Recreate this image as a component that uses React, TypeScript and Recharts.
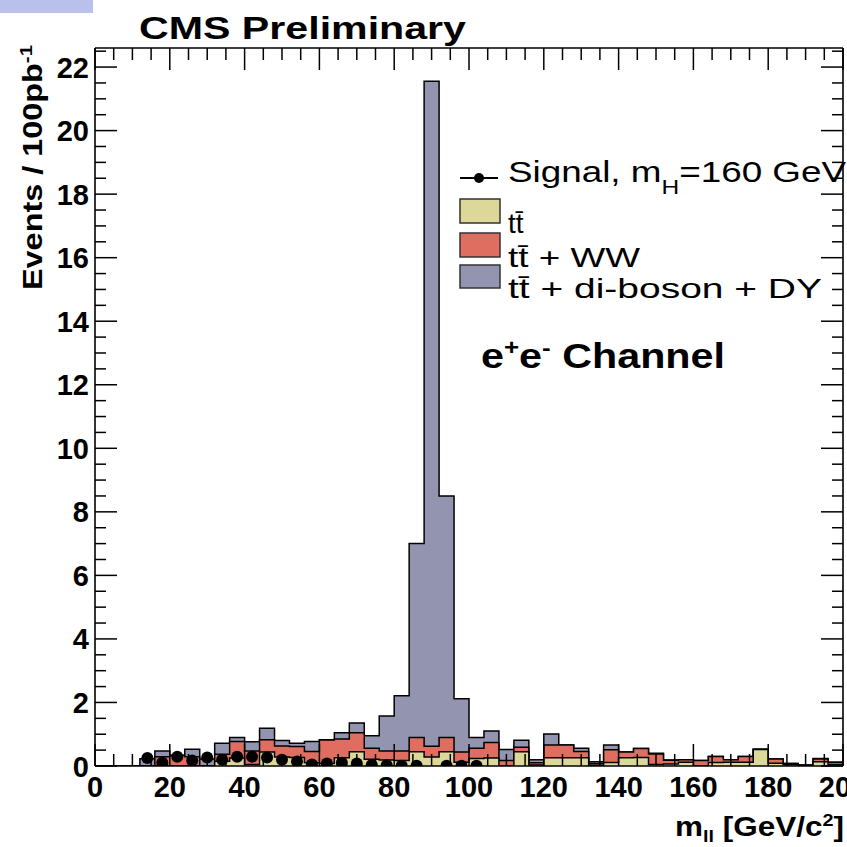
import React from 'react';
import { ComposedChart, Area, Scatter, XAxis, YAxis } from 'recharts';

// bin low edges, 4 GeV bins from 0 to 200
const binLow = [
  0, 4, 8, 12, 16, 20, 24, 28, 32, 36, 40, 44, 48, 52, 56, 60, 64, 68, 72, 76,
  80, 84, 88, 92, 96, 100, 104, 108, 112, 116, 120, 124, 128, 132, 136, 140, 144, 148, 152, 156,
  160, 164, 168, 172, 176, 180, 184, 188, 192, 196,
];

// ttbar only
const ttbar = [
  0, 0, 0, 0, 0, 0, 0, 0, 0.15, 0.25, 0.05, 0.44, 0.28, 0.27, 0.1, 0.08, 0.26, 0.45, 0.21, 0.19,
  0.17, 0.45, 0.28, 0.45, 0.12, 0.24, 0.25, 0, 0.45, 0.03, 0.26, 0.26, 0.26, 0.02, 0.11, 0.26, 0.27, 0.05, 0.06, 0.12,
  0, 0.11, 0.12, 0.12, 0.52, 0.09, 0.04, 0.01, 0.13, 0.05,
];

// ttbar + WW (cumulative)
const ttbarWW = [
  0, 0, 0, 0, 0.29, 0.33, 0.29, 0, 0.37, 0.77, 0.47, 0.83, 0.63, 0.61, 0.46, 0.82, 0.85, 1.05, 0.56, 0.47,
  0.47, 0.9, 0.62, 0.9, 0.44, 0.56, 0.74, 0.17, 0.59, 0.1, 0.66, 0.66, 0.46, 0.08, 0.51, 0.44, 0.55, 0.38, 0.18, 0.2,
  0.17, 0.3, 0.2, 0.3, 0.53, 0.22, 0.08, 0.03, 0.22, 0.12,
];

// ttbar + di-boson + DY (cumulative total)
const totalBkg = [
  0, 0, 0, 0.23, 0.47, 0.34, 0.53, 0.22, 0.72, 0.9, 0.76, 1.19, 0.8, 0.72, 0.77, 0.83, 1.05, 1.35, 0.95, 1.57,
  2.21, 7.0, 21.55, 8.5, 2.12, 0.9, 1.1, 0.52, 0.81, 0.2, 1.01, 0.66, 0.56, 0.13, 0.66, 0.44, 0.55, 0.4, 0.19, 0.2,
  0.17, 0.3, 0.2, 0.3, 0.53, 0.22, 0.08, 0.03, 0.24, 0.12,
];

// signal mH = 160 GeV, at bin centres
const signalMass = [14, 18, 22, 26, 30, 34, 38, 42, 46, 50, 54, 58, 62, 66, 70, 74, 78, 82, 86, 94, 98, 102];
const signalVals = [0.25, 0.1, 0.29, 0.17, 0.27, 0.2, 0.29, 0.29, 0.27, 0.2, 0.14, 0.05, 0.08, 0.1, 0.08, 0.03, 0.02, 0.01, 0.01, 0.01, 0.01, 0.01];

const xMajor = [0, 20, 40, 60, 80, 100, 120, 140, 160, 180, 200];
const yMajor = [0, 2, 4, 6, 8, 10, 12, 14, 16, 18, 20, 22];

const W = 847, H = 847;
const PL = 95, PR = 843, PT = 48, PB = 766;
const YMAX = 22.6;

const C_TT = '#dcd89a';
const C_WW = '#e06e60';
const C_DY = '#9395b0';
const FONT = '"Liberation Sans", Arial, Helvetica, sans-serif';

const xTicks: number[] = [];
for (let v = 0; v <= 200; v += 5) xTicks.push(v);
const yTicks: number[] = [];
for (let v = 0; v <= 22.5; v += 0.5) yTicks.push(v);

const rows = binLow.map((x, i) => ({ x, tt: ttbar[i], ttww: ttbarWW[i], total: totalBkg[i] }));
rows.push({ x: 200, tt: ttbar[49], ttww: ttbarWW[49], total: totalBkg[49] });

const sigRows = signalMass.map((x, i) => ({ x, sig: signalVals[i] }));

const lbl = { fontFamily: FONT, fontWeight: 700, fontSize: 29, fill: '#000' } as const;

const BottomTick = (p: any) => {
  const v = p.payload.value;
  const major = xMajor.includes(v);
  return (
    <g>
      <line x1={p.x} x2={p.x} y1={PB} y2={PB - (major ? 22 : 12)} stroke="#000" strokeWidth={1.5} />
      {major && <text x={p.x} y={PB + 31} textAnchor="middle" {...lbl}>{v}</text>}
    </g>
  );
};

const TopTick = (p: any) => {
  const major = xMajor.includes(p.payload.value);
  return <line x1={p.x} x2={p.x} y1={PT} y2={PT + (major ? 22 : 12)} stroke="#000" strokeWidth={1.5} />;
};

const LeftTick = (p: any) => {
  const v = p.payload.value;
  const major = yMajor.includes(v);
  return (
    <g>
      <line x1={PL} x2={PL + (major ? 22 : 11)} y1={p.y} y2={p.y} stroke="#000" strokeWidth={1.5} />
      {major && <text x={PL - 6} y={p.y + 10.5} textAnchor="end" {...lbl}>{v}</text>}
    </g>
  );
};

const RightTick = (p: any) => {
  const major = yMajor.includes(p.payload.value);
  return <line x1={PR} x2={PR - (major ? 22 : 11)} y1={p.y} y2={p.y} stroke="#000" strokeWidth={1.5} />;
};

const SignalDot = (p: any) => <circle cx={p.cx} cy={p.cy} r={6} fill="#000" />;

export default function App() {
  return (
    <div style={{ position: 'absolute', left: 0, top: 0, width: W, height: H, background: '#fff', overflow: 'hidden' }}>
      <div style={{ position: 'absolute', left: 0, top: 0, width: 93, height: 13, background: '#b9c1ea' }} />
      <ComposedChart
        width={W}
        height={H}
        data={rows}
        margin={{ top: PT - 1, right: W - PR - 1, bottom: H - PB - 30, left: PL - 40 }}
      >
        <Area type="stepAfter" dataKey="total" fill={C_DY} fillOpacity={1} stroke="#000" strokeWidth={1.5} dot={false} activeDot={false} isAnimationActive={false} />
        <Area type="stepAfter" dataKey="ttww" fill={C_WW} fillOpacity={1} stroke="#000" strokeWidth={1.5} dot={false} activeDot={false} isAnimationActive={false} />
        <Area type="stepAfter" dataKey="tt" fill={C_TT} fillOpacity={1} stroke="#000" strokeWidth={1.5} dot={false} activeDot={false} isAnimationActive={false} />
        <Scatter data={sigRows} dataKey="sig" fill="#000" shape={SignalDot} isAnimationActive={false} />
        <XAxis
          dataKey="x" type="number" domain={[0, 200]} ticks={xTicks} interval={0} allowDataOverflow
          height={30} axisLine={{ stroke: '#000', strokeWidth: 1.6 }} tickLine={false} tick={<BottomTick />}
        />
        <XAxis
          xAxisId="top" orientation="top" dataKey="x" type="number" domain={[0, 200]} ticks={xTicks} interval={0}
          allowDataOverflow height={1} axisLine={{ stroke: '#000', strokeWidth: 1.6 }} tickLine={false} tick={<TopTick />}
        />
        <YAxis
          type="number" domain={[0, YMAX]} ticks={yTicks} interval={0} allowDataOverflow width={40}
          axisLine={{ stroke: '#000', strokeWidth: 1.6 }} tickLine={false} tick={<LeftTick />}
        />
        <YAxis
          yAxisId="right" orientation="right" type="number" domain={[0, YMAX]} ticks={yTicks} interval={0}
          allowDataOverflow width={1} axisLine={{ stroke: '#000', strokeWidth: 1.6 }} tickLine={false} tick={<RightTick />}
        />
      </ComposedChart>

      <svg width={W} height={H} style={{ position: 'absolute', left: 0, top: 0, pointerEvents: 'none' }}>
        <text x={139} y={39} fontFamily={FONT} fontWeight={700} fontSize={32} textLength={327} lengthAdjust="spacingAndGlyphs">
          CMS Preliminary
        </text>
        <text transform="translate(42,290) rotate(-90)" fontFamily={FONT} fontWeight={700} fontSize={27} textLength={245} lengthAdjust="spacingAndGlyphs">
          Events / 100pb<tspan dy={-10} fontSize={17}>-1</tspan>
        </text>
        <text x={675} y={836} fontFamily={FONT} fontWeight={700} fontSize={27} textLength={169} lengthAdjust="spacingAndGlyphs">
          m<tspan dy={6} fontSize={17}>ll</tspan>
          <tspan dy={-6}> [GeV/c</tspan>
          <tspan dy={-10} fontSize={17}>2</tspan>
          <tspan dy={10}>]</tspan>
        </text>

        {/* legend */}
        <line x1={460} x2={498} y1={178} y2={178} stroke="#000" strokeWidth={2} />
        <circle cx={479} cy={178} r={5} fill="#000" />
        <text x={508} y={182} fontFamily={FONT} fontSize={30} textLength={338} lengthAdjust="spacingAndGlyphs">
          Signal, m<tspan dy={12} fontSize={20}>H</tspan>
          <tspan dy={-12}>=160 GeV</tspan>
        </text>
        <rect x={460} y={199} width={40} height={24} fill={C_TT} stroke="#333" strokeWidth={1.5} />
        <rect x={460} y={233} width={40} height={24} fill={C_WW} stroke="#333" strokeWidth={1.5} />
        <rect x={460} y={265} width={40} height={23} fill={C_DY} stroke="#333" strokeWidth={1.5} />
        <text x={508} y={233} fontFamily={FONT} fontSize={28}>t{'t\u0304'}</text>
        <text x={508} y={267} fontFamily={FONT} fontSize={28} textLength={132} lengthAdjust="spacingAndGlyphs">
          t{'t\u0304'} + WW
        </text>
        <text x={508} y={298} fontFamily={FONT} fontSize={28} textLength={314} lengthAdjust="spacingAndGlyphs">
          t{'t\u0304'} + di-boson + DY
        </text>

        <text x={481} y={368} fontFamily={FONT} fontWeight={700} fontSize={35} textLength={244} lengthAdjust="spacingAndGlyphs">
          e<tspan dy={-13} fontSize={22}>+</tspan>
          <tspan dy={13}>e</tspan>
          <tspan dy={-13} fontSize={22}>-</tspan>
          <tspan dy={13}> Channel</tspan>
        </text>
      </svg>
    </div>
  );
}
